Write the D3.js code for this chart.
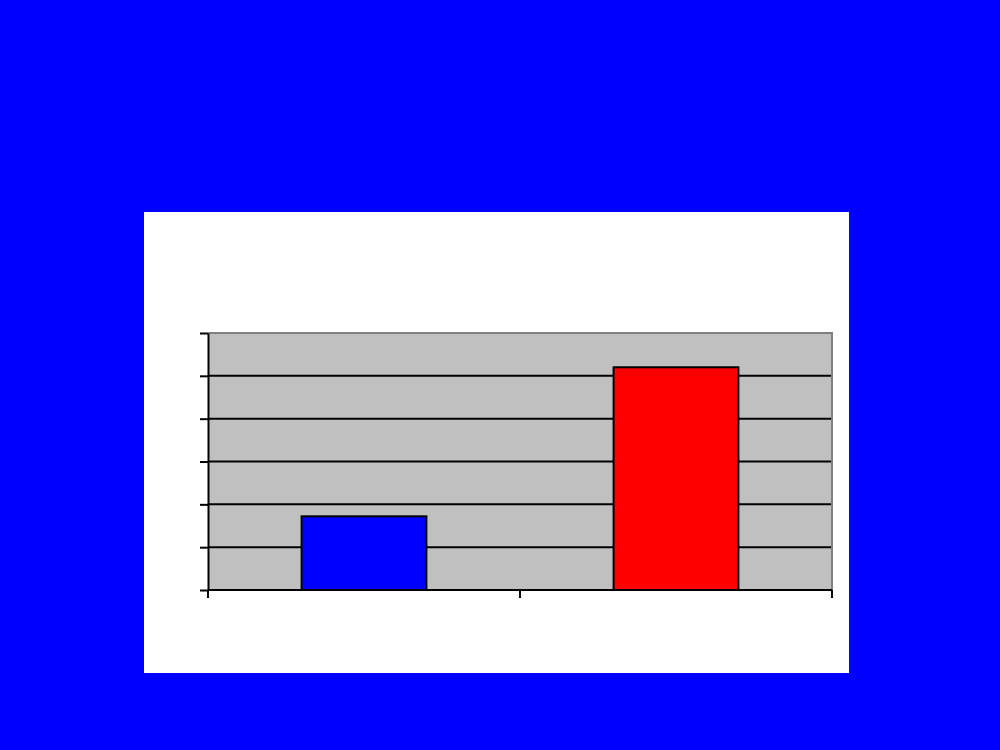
<html>
<head>
  <script src="https://d3js.org/d3.v7.min.js"></script>
  <style>
    body { margin: 0; background: #0000ff; }
    svg { display: block; }
  </style>
</head>
<body>
<svg width="1000" height="750"></svg>
<script>
  // values (no labels shown in the original)
  let categories = ["A", "B"];
  let values = [1.72, 5.2];
  let barColors = ["#0000ff", "#ff0000"];
  let yTicks = [0, 1, 2, 3, 4, 5, 6];

  let svg = d3.select("svg");

  svg.append("rect")
          .attr("x", 0).attr("y", 0)
          .attr("width", 1000).attr("height", 750)
          .attr("fill", "#0000ff");

  // white chart panel
  svg.append("rect")
          .attr("x", 144).attr("y", 212)
          .attr("width", 705).attr("height", 461)
          .attr("fill", "#ffffff");

  let plotLeft = 208, plotRight = 832, plotTop = 333, plotBottom = 590;
  let g = svg.append("g");

  let xScale = d3.scaleBand()
          .domain(categories)
          .range([plotLeft, plotRight])
          .paddingInner(0.6)
          .paddingOuter(0.3);

  let yScale = d3.scaleLinear()
          .domain([0, 6])
          .range([plotBottom, plotTop]);

  // plot background
  g.append("rect")
          .attr("x", plotLeft).attr("y", plotTop)
          .attr("width", plotRight - plotLeft).attr("height", plotBottom - plotTop)
          .attr("fill", "#c0c0c0");

  // gridlines
  g.selectAll("line.grid")
          .data(yTicks.slice(1, -1))
          .enter()
          .append("line")
          .attr("class", "grid")
          .attr("x1", plotLeft).attr("x2", plotRight)
          .attr("y1", d => yScale(d)).attr("y2", d => yScale(d))
          .attr("stroke", "#000")
          .attr("stroke-width", 2);

  // grey top / right border
  g.append("path")
          .attr("d", "M" + plotLeft + "," + yScale(6) + "H" + plotRight + "V" + yScale(0))
          .attr("fill", "none")
          .attr("stroke", "#808080")
          .attr("stroke-width", 2);

  // bars
  g.selectAll("rect.bar")
          .data(values)
          .enter()
          .append("rect")
          .attr("class", "bar")
          .attr("x", (d, i) => xScale(categories[i]))
          .attr("y", d => yScale(d))
          .attr("width", xScale.bandwidth())
          .attr("height", d => yScale(0) - yScale(d))
          .attr("fill", (d, i) => barColors[i])
          .attr("stroke", "#000")
          .attr("stroke-width", 2);

  // y axis
  let yAxis = d3.axisLeft(yScale)
          .tickValues(yTicks)
          .tickSize(8)
          .tickSizeOuter(0)
          .tickFormat("");

  g.append("g")
          .attr("transform", "translate(" + plotLeft + ",0)")
          .call(yAxis)
          .call(a => a.selectAll("line").attr("stroke", "#000").attr("stroke-width", 2))
          .call(a => a.select(".domain").attr("stroke", "#000").attr("stroke-width", 2));

  // x axis with ticks at category boundaries
  let step = xScale.step();
  let bounds = categories.map(c => xScale(c) - (step - xScale.bandwidth()) / 2);
  bounds.push(plotRight);

  g.append("line")
          .attr("x1", plotLeft).attr("x2", plotRight)
          .attr("y1", plotBottom).attr("y2", plotBottom)
          .attr("stroke", "#000")
          .attr("stroke-width", 2);

  g.selectAll("line.xtick")
          .data(bounds)
          .enter()
          .append("line")
          .attr("class", "xtick")
          .attr("x1", d => d).attr("x2", d => d)
          .attr("y1", plotBottom).attr("y2", plotBottom + 8)
          .attr("stroke", "#000")
          .attr("stroke-width", 2);
</script>
</body>
</html>
